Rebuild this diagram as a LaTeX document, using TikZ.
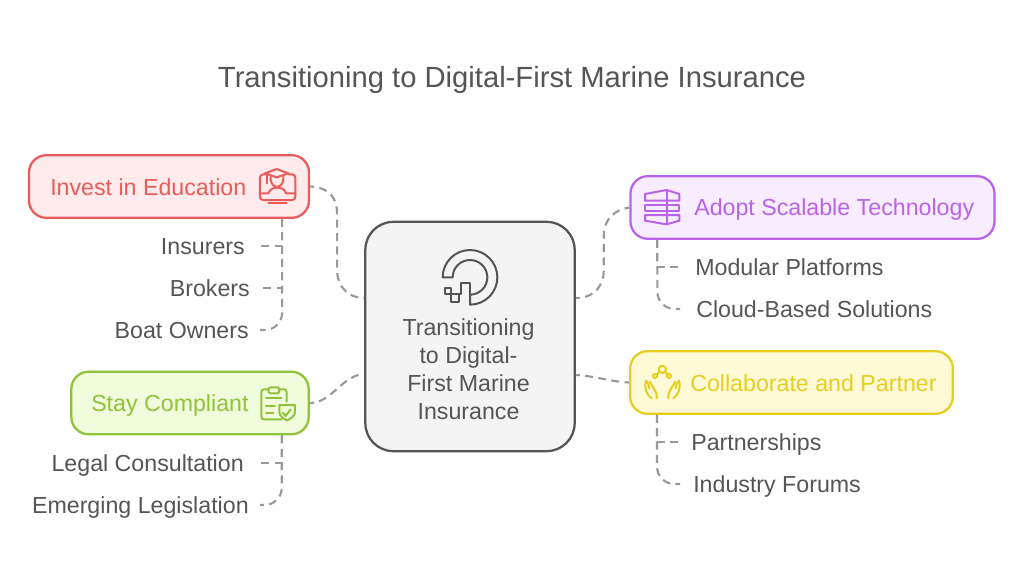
\documentclass[tikz,border=0pt]{standalone}
\usepackage{fontspec}
\setmainfont{Liberation Sans}
\usetikzlibrary{calc}
\definecolor{ink colour}{HTML}{555555}
\definecolor{link colour}{HTML}{999999}
\definecolor{hub fill}{HTML}{F4F4F4}
\definecolor{red line}{HTML}{E85C5C}
\definecolor{red fill}{HTML}{FFEBEB}
\definecolor{green line}{HTML}{8FC33A}
\definecolor{green fill}{HTML}{F1FCDC}
\definecolor{purple line}{HTML}{B964E8}
\definecolor{purple fill}{HTML}{F8ECFF}
\definecolor{yellow line}{HTML}{E5CF1E}
\definecolor{yellow fill}{HTML}{FFF9D6}
\tikzset{
    % Coordinates below
    x=0.75pt, y=-0.75pt,
    body font/.style={font=\fontsize{17.4}{21}\selectfont, text height=16pt, text depth=4pt},
    link/.style={color=link colour, line width=1.6pt, dash pattern=on 6pt off 4pt},
    hub link/.style={link, dash phase=3pt},
    last link/.style={link, rounded corners=13pt},
    box/.style={draw=#1 line, fill=#1 fill, line width=1.7pt, rounded corners=13pt,
        minimum height=47pt, inner sep=0},
    box title/.style={body font, text=#1 line, inner sep=0},
    leaf/.style={body font, text=ink colour, inner xsep=#1, inner ysep=0},
    icon/.style={draw=#1, line width=1.5pt, line join=round, line cap=round},
}

\begin{document}
\begin{tikzpicture}

\useasboundingbox (0,0) rectangle (1024,576);

\path (512,80) node [font=\fontsize{21.9}{26}\selectfont, text=ink colour] (title)
    {Transitioning to Digital-First Marine Insurance};

% Centre box
\path
    (470,336.5) node [draw=ink colour, fill=hub fill, line width=1.7pt, rounded corners=21pt,
        minimum width=157pt, minimum height=172pt, inner sep=0] (hub) {}
    (468.5,369) node [font=\fontsize{17.4}{21}\selectfont, text=ink colour, align=center, inner sep=0] (hub title)
        {Transitioning\\to Digital-\\First Marine\\Insurance};

% Left and right boxes
\path
    (169,186.5) node [box=red, minimum width=210pt] (invest) {}
    (190,403) node [box=green, minimum width=178pt] (comply) {}
    (812.5,207.5) node [box=purple, minimum width=273pt] (adopt) {}
    (791.5,382.5) node [box=yellow, minimum width=242pt] (partner) {};

\path
    (50,187) node [box title=red, anchor=west] (invest title) {Invest in Education}
    (91,403) node [box title=green, anchor=west] (comply title) {Stay Compliant}
    (694,207) node [box title=purple, anchor=west] (adopt title) {Adopt Scalable Technology}
    (690,383) node [box title=yellow, anchor=west] (partner title) {Collaborate and Partner};

% Items under each box
\path
    (260,246) node [leaf=11.25pt, anchor=east] (insurers) {Insurers}
    (260,288) node [leaf=7.5pt, anchor=east] (brokers) {Brokers}
    (260,330) node [leaf=8.25pt, anchor=east] (boat owners) {Boat Owners}
    (260,463) node [leaf=12pt, anchor=east] (legal) {Legal Consultation}
    (260,505) node [leaf=8.25pt, anchor=east] (emerging) {Emerging Legislation}
    (680,267) node [leaf=11.25pt, anchor=west] (modular) {Modular Platforms}
    (680,309) node [leaf=12pt, anchor=west] (cloud) {Cloud-Based Solutions}
    (680,442) node [leaf=8.25pt, anchor=west] (partnerships) {Partnerships}
    (680,484) node [leaf=9.75pt, anchor=west] (forums) {Industry Forums};

\draw [link] ($(invest.south east)+(-28,0)$) coordinate (p) |- (insurers.east);
\draw [link] (p) |- (brokers.east);
\draw [last link] (p) |- (boat owners.east);
\draw [link] ($(comply.south east)+(-28,0)$) coordinate (p) |- (legal.east);
\draw [last link] (p) |- (emerging.east);
\draw [link] ($(adopt.south west)+(28,0)$) coordinate (p) |- (modular.west);
\draw [last link] (p) |- (cloud.west);
\draw [link] ($(partner.south west)+(28,0)$) coordinate (p) |- (partnerships.west);
\draw [last link] (p) |- (forums.west);

% Links to the centre box
\draw [hub link] (invest.east) .. controls +(20,1) and +(0,-16) .. ++(27,28) coordinate (p)
    -- ++(0,56) .. controls +(0,16) and +(-16,0) .. (hub.west |- 0,298);
\draw [hub link] (comply.east) .. controls +(22,0) and +(-22,1) .. (hub.west |- 0,374);
\draw [hub link] (hub.east |- 0,298) .. controls +(20,0) and +(0,14) .. ++(28,-28) coordinate (p)
    -- ++(0,-35) .. controls +(0,-16) and +(-14,2) .. (adopt.west);
\draw [hub link] (hub.east |- 0,375) .. controls +(20,1) and +(-20,-1) .. (partner.west);

% Centre icon
\begin{scope}[shift={(360,215)}, scale=1/3, icon=ink colour]
    \draw (248,187) arc [start angle=180, end angle=450, radius=82]
        -- (330,239) arc [start angle=450, end angle=180, radius=52] -- cycle;
    \draw (330,239) -- (330,203) -- (303,203) -- (303,238) -- (272,238) -- (272,218)
        -- (255,218) -- (255,236) -- (272,236) -- (272,262) -- (298,262) -- (298,238);
\end{scope}

% Education icon
\begin{scope}[shift={(20,145)}, scale=1/3, icon=red line]
    \draw (735,88) -- (730,88) .. controls (724,88) and (720,92) .. (720,98) -- (720,155)
        .. controls (720,162) and (724,165) .. (730,165) -- (816,165)
        .. controls (822,165) and (826,162) .. (826,155) -- (826,98)
        .. controls (826,92) and (822,88) .. (816,88) -- (806,88);
    \draw (720,145) -- (745,145) .. controls (750,132) and (760,128) .. (772,128)
        .. controls (784,128) and (794,132) .. (798,145) -- (826,145);
    \draw (745,175) -- (800,175);
    \draw (735,85) -- (770,72) -- (805,85) -- (770,97) -- cycle;
    \draw (740,88) -- (740,115);
    \draw (752,95) -- (752,104) .. controls (754,118) and (762,125) .. (771,125)
        .. controls (780,125) and (788,118) .. (790,104) -- (790,95);
\end{scope}

% Compliance icon
\begin{scope}[shift={(20,340)}, scale=1/3, icon=green line]
    \draw (745,148) -- (732,148) .. controls (727,148) and (724,151) .. (724,156) -- (724,230)
        .. controls (724,235) and (727,238) .. (732,238) -- (785,238);
    \draw (778,148) -- (792,148) .. controls (797,148) and (800,151) .. (800,156) -- (800,185);
    \draw (752,142) -- (771,142) .. controls (776,142) and (778,145) .. (778,150)
        .. controls (778,156) and (776,160) .. (771,160) -- (752,160)
        .. controls (747,160) and (745,156) .. (745,150) .. controls (745,145) and (747,142) .. (752,142);
    \draw (738,175) -- (785,175) (738,197) -- (765,197) (738,220) -- (760,220);
    \draw (778,195) -- (825,195) -- (825,215) .. controls (825,228) and (812,236) .. (801,241)
        .. controls (790,236) and (778,228) .. (778,215) -- cycle;
    \draw (788,218) -- (797,228) -- (812,208);
\end{scope}

% Technology icon
\begin{scope}[shift={(570,170)}, scale=1/3, icon=purple line]
    \draw (225,72) -- (290,60) -- (328,72) -- (328,92) -- (225,92) -- cycle;
    \draw (225,105) rectangle (328,122);
    \draw (225,135) -- (328,135) -- (328,152) -- (290,163) -- (225,152) -- cycle;
    \draw (290,60) -- (290,163);
\end{scope}

% Partner icon
\begin{scope}[shift={(570,345)}, scale=1/3, icon=yellow line]
    \draw (277,73) circle [radius=11];
    \draw (255,93) circle [radius=6];
    \draw (297,93) circle [radius=6];
    \draw (260,89) -- (268,80) (292,89) -- (286,80);
    \draw (245,160) .. controls (230,150) and (222,130) .. (228,107)
        .. controls (234,112) and (237,120) .. (238,130) (240,110)
        .. controls (244,125) and (262,135) .. (260,160);
    \draw (310,160) .. controls (325,150) and (333,130) .. (327,107)
        .. controls (321,112) and (318,120) .. (317,130) (315,110)
        .. controls (311,125) and (293,135) .. (295,160);
\end{scope}

\end{tikzpicture}
\end{document}
